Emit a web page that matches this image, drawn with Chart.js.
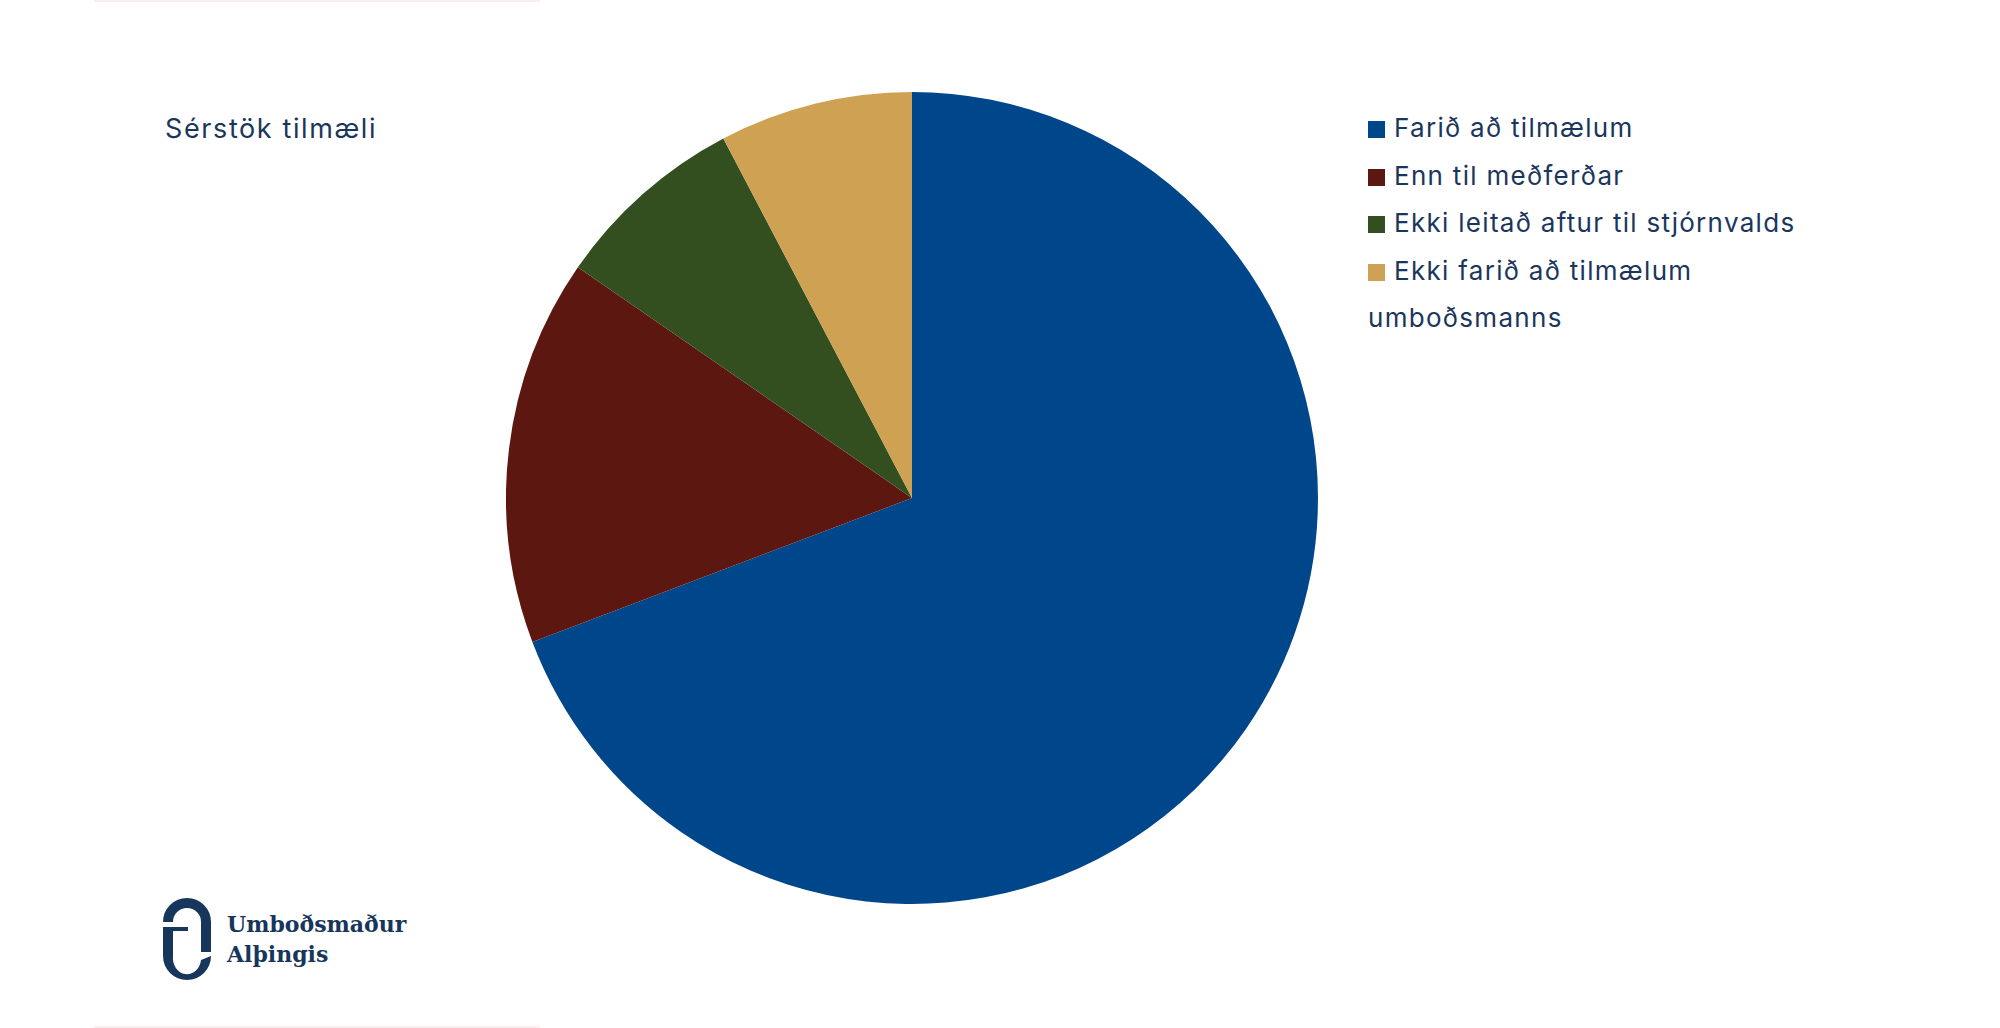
<!DOCTYPE html>
<html lang="is">
<head>
<meta charset="utf-8">
<title>Sérstök tilmæli</title>
<script src="https://cdn.jsdelivr.net/npm/chart.js@4/dist/chart.umd.min.js"></script>
<style>
    html, body {
        margin: 0;
        padding: 0;
        background: #ffffff;
    }
    body {
        width: 2000px;
        height: 1028px;
        position: relative;
        overflow: hidden;
        font-family: "Inter", "Noto Sans", sans-serif;
        color: #1b365d;
    }
    .edge {
        position: absolute;
        left: 94px;
        width: 446px;
        height: 2px;
        background: #fbeef0;
    }
    #title {
        position: absolute;
        left: 165px;
        top: 111px;
        font-size: 27px;
        letter-spacing: 1.6px;
        line-height: 36px;
        white-space: nowrap;
    }
    #chartBox {
        position: absolute;
        left: 506px;
        top: 92px;
        width: 812px;
        height: 812px;
    }
    #legend {
        position: absolute;
        left: 1368px;
        top: 104px;
        width: 470px;
        font-size: 26px;
        letter-spacing: 1.3px;
        line-height: 47.5px;
    }
    #legend .item {
        display: block;
    }
    #legend .swatch {
        display: inline-block;
        width: 17px;
        height: 17px;
        margin-right: 9px;
        vertical-align: -1px;
    }
    #logo {
        position: absolute;
        left: 155px;
        top: 890px;
    }
    #logoText {
        position: absolute;
        left: 227px;
        top: 909px;
        font-family: "DejaVu Serif", "Liberation Serif", serif;
        font-weight: bold;
        font-size: 22px;
        line-height: 30px;
        color: #17365c;
    }
</style>
</head>
<body>
<div class="edge" style="top:0;"></div>
<div class="edge" style="top:1026px;"></div>

<div id="title">Sérstök tilmæli</div>

<div id="chartBox"><canvas id="pieChart"></canvas></div>

<div id="legend"></div>

<svg id="logo" width="65" height="100" viewBox="0 0 65 100">
    <!-- upper arc with right leg -->
    <path d="M13 32 A19 19 0 0 1 51 32 L51 62" fill="none" stroke="#17365c" stroke-width="10"/>
    <!-- cross bar -->
    <rect x="8" y="37" width="25" height="4" fill="#17365c"/>
    <!-- left stem and lower arc -->
    <path d="M8 37 L18 37 L18 66 A14 16 0 0 0 46 70 L56 66 A24 24 0 0 1 8 66 Z" fill="#17365c"/>
</svg>
<div id="logoText">Umboðsmaður<br>Alþingis</div>

<script>
    // Chart data
    const categories = [
        "Farið að tilmælum",
        "Enn til meðferðar",
        "Ekki leitað aftur til stjórnvalds",
        "Ekki farið að tilmælum umboðsmanns"
    ];
    const counts = [9, 2, 1, 1];
    const sliceColors = ["#00468b", "#5c1810", "#334f1f", "#cea153"];

    // Build the legend from the same arrays
    const legendBox = document.getElementById("legend");
    categories.forEach((name, i) => {
        let div = document.createElement("div");
        div.className = "item";
        let sw = document.createElement("span");
        sw.className = "swatch";
        sw.style.background = sliceColors[i];
        div.appendChild(sw);
        div.appendChild(document.createTextNode(name));
        legendBox.appendChild(div);
    });

    const ctx = document.getElementById("pieChart").getContext("2d");
    new Chart(ctx, {
        type: "pie",
        data: {
            labels: categories,
            datasets: [{
                data: counts,
                backgroundColor: sliceColors,
                borderWidth: 0
            }]
        },
        options: {
            responsive: true,
            maintainAspectRatio: false,
            animation: false,
            layout: { padding: 0 },
            plugins: {
                legend: { display: false },
                tooltip: { enabled: false }
            }
        }
    });
</script>
</body>
</html>
